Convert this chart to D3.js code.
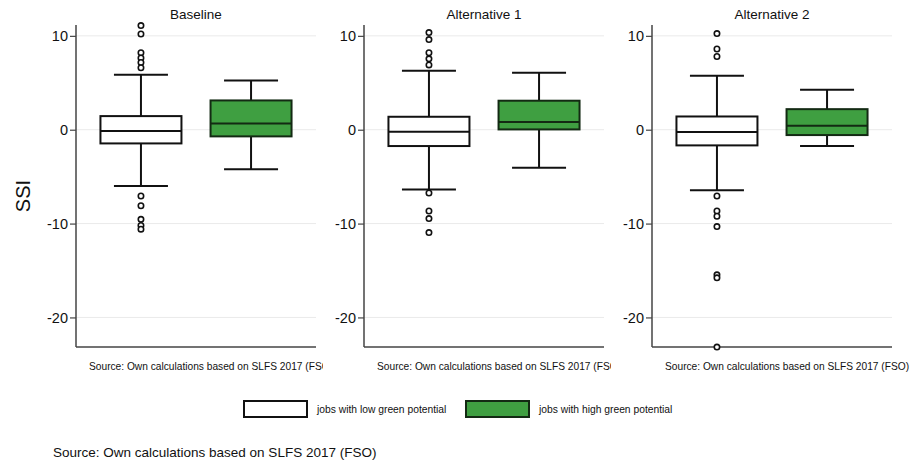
<!DOCTYPE html>
<html>
<head>
<meta charset="utf-8">
<script src="https://cdn.jsdelivr.net/npm/d3@7"></script>
<style>
  body { margin: 0; background: #fff; }
  svg { font-family: "Liberation Sans", Arial, sans-serif; }
</style>
</head>
<body>
<div id="vis"></div>
<script>
// panel titles and box groups
var scenarios = ['Baseline', 'Alternative 1', 'Alternative 2'];
var groups = ['jobs with low green potential', 'jobs with high green potential'];
var groupColors = ['#ffffff', '#3f9f41'];
var yTicks = [-20, -10, 0, 10];

// box stats per scenario: [lower whisker, q1, median, q3, upper whisker]
var lowStats = [
  [-6.0, -1.46, -0.15, 1.45, 5.85],
  [-6.38, -1.74, -0.21, 1.38, 6.28],
  [-6.46, -1.67, -0.25, 1.41, 5.74]
];
var highStats = [
  [-4.22, -0.71, 0.67, 3.12, 5.25],
  [-4.04, 0.03, 0.81, 3.09, 6.06],
  [-1.74, -0.57, 0.42, 2.19, 4.26]
];

// outside values, low green potential jobs only
var lowOutliers = [
  [11.1, 10.2, 8.2, 7.65, 7.16, 6.6, -7.06, -8.1, -9.55, -10.2, -10.6],
  [10.35, 9.6, 8.2, 7.55, 6.9, -6.74, -8.66, -9.47, -10.96],
  [10.24, 8.6, 7.8, -7.06, -8.66, -9.22, -10.32, -15.46, -15.78, -23.16]
];
var highOutliers = [[], [], []];

var sourceText = 'Source: Own calculations based on SLFS 2017 (FSO)';

var width = 913;
var height = 463;
var panelLeft = [76, 364, 652];
var plotW = 240;
var plotTop = 26;
var plotBottom = 347;

var svg = d3.select('#vis').append('svg')
  .attr('width', width)
  .attr('height', height);

var y = d3.scaleLinear()
  .domain([-23.15, 11.05])
  .range([plotBottom, plotTop]);

var x = d3.scalePoint()
  .domain(groups)
  .range([0, plotW])
  .padding(0.59);

var boxW = 81;
var capW = 54;

scenarios.forEach(function (name, i) {
  var g = svg.append('g')
    .attr('transform', 'translate(' + panelLeft[i] + ',0)');

  // clip the source line of the first two panels like the original
  if (i < 2) {
    svg.append('clipPath').attr('id', 'clip' + i)
      .append('rect')
      .attr('x', -80).attr('y', 0)
      .attr('width', 80 + 247).attr('height', height);
    g.attr('clip-path', 'url(#clip' + i + ')');
  }

  // gridlines
  g.selectAll('.grid')
    .data(yTicks)
    .enter().append('line')
    .attr('class', 'grid')
    .attr('x1', 0).attr('x2', plotW)
    .attr('y1', y).attr('y2', y)
    .attr('stroke', '#eaeaea')
    .attr('stroke-width', 1);

  // y axis (plain hyphen for negatives)
  var axis = g.append('g')
    .call(d3.axisLeft(y).tickValues(yTicks).tickSize(6).tickPadding(2)
      .tickFormat(function (d) { return String(d); }));
  axis.select('.domain').remove();
  axis.selectAll('.tick line').attr('stroke', '#444').attr('stroke-width', 1.2);
  axis.selectAll('.tick text')
    .attr('fill', '#111')
    .style('font-size', '14.5px')
    .style('font-family', '"Liberation Sans", Arial, sans-serif');

  g.append('line')
    .attr('x1', 0).attr('x2', 0)
    .attr('y1', plotTop - 1).attr('y2', plotBottom)
    .attr('stroke', '#444').attr('stroke-width', 1.5);
  g.append('line')
    .attr('x1', 0).attr('x2', plotW)
    .attr('y1', plotBottom).attr('y2', plotBottom)
    .attr('stroke', '#444').attr('stroke-width', 1.5);

  // title
  g.append('text')
    .attr('x', plotW / 2)
    .attr('y', 19)
    .attr('text-anchor', 'middle')
    .style('font-size', '13.5px')
    .attr('fill', '#111')
    .text(name);

  // boxes
  var boxes = [
    { group: groups[0], s: lowStats[i], out: lowOutliers[i], fill: groupColors[0], stroke: '#111' },
    { group: groups[1], s: highStats[i], out: highOutliers[i], fill: groupColors[1], stroke: '#132a13' }
  ];

  boxes.forEach(function (b) {
    var cx = x(b.group);
    var bg = g.append('g');
    // whiskers
    bg.append('line')
      .attr('x1', cx).attr('x2', cx)
      .attr('y1', y(b.s[4])).attr('y2', y(b.s[3]))
      .attr('stroke', '#111').attr('stroke-width', 2);
    bg.append('line')
      .attr('x1', cx).attr('x2', cx)
      .attr('y1', y(b.s[1])).attr('y2', y(b.s[0]))
      .attr('stroke', '#111').attr('stroke-width', 2);
    [b.s[0], b.s[4]].forEach(function (v) {
      bg.append('line')
        .attr('x1', cx - capW / 2).attr('x2', cx + capW / 2)
        .attr('y1', y(v)).attr('y2', y(v))
        .attr('stroke', '#111').attr('stroke-width', 2);
    });
    bg.append('rect')
      .attr('x', cx - boxW / 2)
      .attr('y', y(b.s[3]))
      .attr('width', boxW)
      .attr('height', y(b.s[1]) - y(b.s[3]))
      .attr('fill', b.fill)
      .attr('stroke', b.stroke)
      .attr('stroke-width', 2);
    bg.append('line')
      .attr('x1', cx - boxW / 2).attr('x2', cx + boxW / 2)
      .attr('y1', y(b.s[2])).attr('y2', y(b.s[2]))
      .attr('stroke', b.stroke).attr('stroke-width', 2);
    bg.selectAll('circle')
      .data(b.out)
      .enter().append('circle')
      .attr('cx', cx)
      .attr('cy', y)
      .attr('r', 2.7)
      .attr('fill', '#fff')
      .attr('stroke', '#111')
      .attr('stroke-width', 1.6);
  });

  // per panel note
  g.append('text')
    .attr('x', 13)
    .attr('y', 370)
    .style('font-size', '10.2px')
    .attr('fill', '#111')
    .text(sourceText);
});

// y title
svg.append('text')
  .attr('transform', 'translate(29.5,196) rotate(-90)')
  .attr('text-anchor', 'middle')
  .style('font-size', '20px')
  .attr('fill', '#111')
  .text('SSI');

// legend
var legendX = [244, 466];
var legend = svg.selectAll('.legend')
  .data(groups)
  .enter().append('g')
  .attr('class', 'legend')
  .attr('transform', function (d, i) { return 'translate(' + legendX[i] + ',401)'; });
legend.append('rect')
  .attr('width', 63).attr('height', 16)
  .attr('fill', function (d, i) { return groupColors[i]; })
  .attr('stroke', function (d, i) { return i === 0 ? '#111' : '#132a13'; })
  .attr('stroke-width', 2);
legend.append('text')
  .attr('x', 73)
  .attr('y', 12)
  .style('font-size', '10.3px')
  .attr('fill', '#111')
  .text(function (d) { return d; });

// overall note
svg.append('text')
  .attr('x', 53)
  .attr('y', 457)
  .style('font-size', '13.5px')
  .attr('fill', '#111')
  .text(sourceText);
</script>
</body>
</html>
